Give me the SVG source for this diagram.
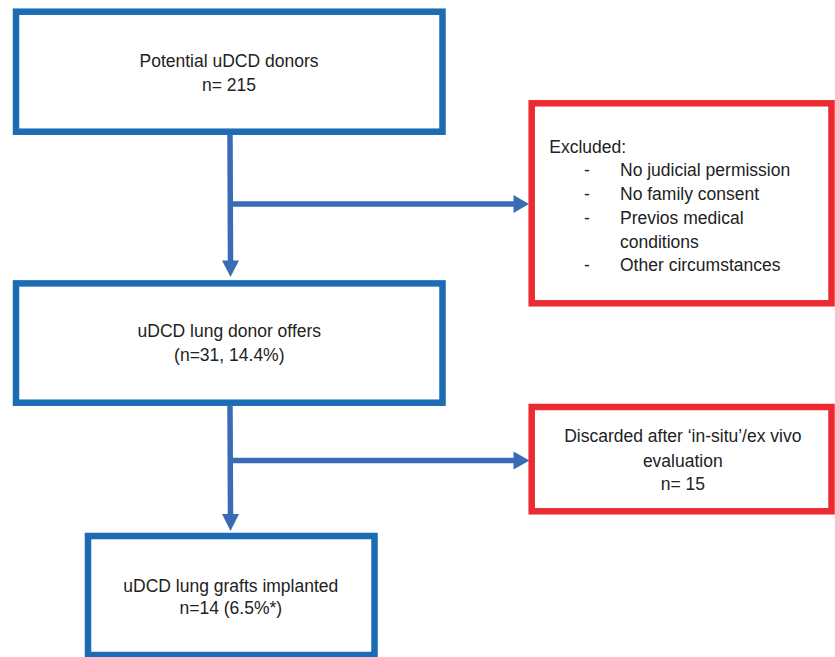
<svg xmlns="http://www.w3.org/2000/svg" width="835" height="657" viewBox="0 0 835 657">
<defs>
<style>
.bb{fill:#fff;stroke:#1b6bb5;stroke-width:6.5}
.rb{fill:#fff;stroke:#ec2a32;stroke-width:6.5}
.t{font-family:"Liberation Sans",Arial,sans-serif;font-size:17.5px;fill:#222}
.c{text-anchor:middle}
.ln{fill:none;stroke:#3a6cb5;stroke-width:5.5}
.ah{fill:#3a6cb5}
</style>
</defs>
<rect width="835" height="657" fill="#fff"/>
<g id="connectors">
<line class="ln" x1="230" y1="135" x2="230.5" y2="262"/>
<polygon class="ah" points="222,260.5 239,260.5 230.5,277"/>
<line class="ln" x1="230" y1="204" x2="515" y2="204"/>
<polygon class="ah" points="513.5,195 513.5,213 529,204"/>
<line class="ln" x1="230" y1="406" x2="230.5" y2="516"/>
<polygon class="ah" points="222,514 239,514 230.5,531"/>
<line class="ln" x1="230" y1="460.5" x2="515" y2="460.5"/>
<polygon class="ah" points="513.5,451.5 513.5,469.5 529.5,460.5"/>
</g>
<g id="potential">
<rect class="bb" x="16" y="11.7" width="426.5" height="120"/>
<text class="t c" x="229" y="66.7">Potential uDCD donors</text>
<text class="t c" x="229" y="90.7">n= 215</text>
</g>
<g id="excluded">
<rect class="rb" x="531.7" y="103.3" width="299.8" height="200"/>
<text class="t" x="549.3" y="152.7">Excluded:</text>
<text class="t" x="584" y="176.4">-</text>
<text class="t" x="620" y="176.4">No judicial permission</text>
<text class="t" x="584" y="200.1">-</text>
<text class="t" x="620" y="200.1">No family consent</text>
<text class="t" x="584" y="223.8">-</text>
<text class="t" x="620" y="223.8">Previos medical</text>
<text class="t" x="620" y="247.5">conditions</text>
<text class="t" x="584" y="271.2">-</text>
<text class="t" x="620" y="271.2">Other circumstances</text>
</g>
<g id="offers">
<rect class="bb" x="16" y="283.4" width="426.5" height="119.3"/>
<text class="t c" x="229.3" y="336.7">uDCD lung donor offers</text>
<text class="t c" x="229.3" y="361">(n=31, 14.4%)</text>
</g>
<g id="discarded">
<rect class="rb" x="531.7" y="407" width="299.8" height="104.3"/>
<text class="t c" x="682.8" y="442.3">Discarded after ‘in-situ’/ex vivo</text>
<text class="t c" x="682.8" y="466.7">evaluation</text>
<text class="t c" x="682.8" y="490">n= 15</text>
</g>
<g id="implanted">
<rect class="bb" x="88" y="536" width="286.5" height="119"/>
<text class="t c" x="230.8" y="591.7">uDCD lung grafts implanted</text>
<text class="t c" x="230.8" y="614.3">n=14 (6.5%*)</text>
</g>
</svg>
